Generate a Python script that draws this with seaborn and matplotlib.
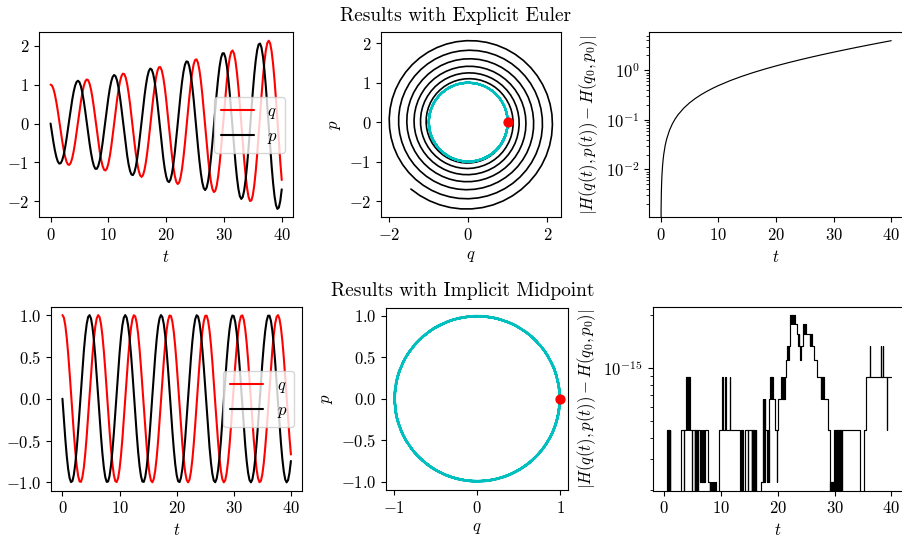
import numpy as np
import matplotlib
matplotlib.use("Agg")
import matplotlib.pyplot as plt
import matplotlib.ticker as mticker
import seaborn as sns

# sample times, one value every 0.25
t = [0, 0.25, 0.5, 0.75, 1, 1.25, 1.5, 1.75,
     2, 2.25, 2.5, 2.75, 3, 3.25, 3.5, 3.75,
     4, 4.25, 4.5, 4.75, 5, 5.25, 5.5, 5.75,
     6, 6.25, 6.5, 6.75, 7, 7.25, 7.5, 7.75,
     8, 8.25, 8.5, 8.75, 9, 9.25, 9.5, 9.75,
     10, 10.25, 10.5, 10.75, 11, 11.25, 11.5, 11.75,
     12, 12.25, 12.5, 12.75, 13, 13.25, 13.5, 13.75,
     14, 14.25, 14.5, 14.75, 15, 15.25, 15.5, 15.75,
     16, 16.25, 16.5, 16.75, 17, 17.25, 17.5, 17.75,
     18, 18.25, 18.5, 18.75, 19, 19.25, 19.5, 19.75,
     20, 20.25, 20.5, 20.75, 21, 21.25, 21.5, 21.75,
     22, 22.25, 22.5, 22.75, 23, 23.25, 23.5, 23.75,
     24, 24.25, 24.5, 24.75, 25, 25.25, 25.5, 25.75,
     26, 26.25, 26.5, 26.75, 27, 27.25, 27.5, 27.75,
     28, 28.25, 28.5, 28.75, 29, 29.25, 29.5, 29.75,
     30, 30.25, 30.5, 30.75, 31, 31.25, 31.5, 31.75,
     32, 32.25, 32.5, 32.75, 33, 33.25, 33.5, 33.75,
     34, 34.25, 34.5, 34.75, 35, 35.25, 35.5, 35.75,
     36, 36.25, 36.5, 36.75, 37, 37.25, 37.5, 37.75,
     38, 38.25, 38.5, 38.75, 39, 39.25, 39.5, 39.75,
     40]

# explicit Euler trajectory, one value every 0.125 (every 2nd one matches t)
q_euler = [1.000, 0.995, 0.974, 0.938, 0.887, 0.821, 0.743, 0.653, 0.552, 0.441, 0.324, 0.201, 0.074, -0.055, -0.184, -0.310,
           -0.432, -0.548, -0.656, -0.754, -0.841, -0.916, -0.976, -1.021, -1.051, -1.064, -1.061, -1.041, -1.005, -0.953, -0.886, -0.804,
           -0.710, -0.604, -0.488, -0.363, -0.233, -0.098, 0.039, 0.176, 0.311, 0.442, 0.566, 0.683, 0.789, 0.883, 0.964, 1.031,
           1.082, 1.116, 1.132, 1.131, 1.113, 1.077, 1.024, 0.954, 0.870, 0.771, 0.660, 0.538, 0.407, 0.269, 0.126, -0.020,
           -0.166, -0.310, -0.450, -0.584, -0.709, -0.824, -0.927, -1.015, -1.088, -1.145, -1.184, -1.204, -1.205, -1.189, -1.154, -1.100,
           -1.028, -0.940, -0.838, -0.721, -0.593, -0.454, -0.308, -0.156, -0.002, 0.154, 0.308, 0.459, 0.602, 0.737, 0.861, 0.972,
           1.068, 1.149, 1.212, 1.256, 1.281, 1.286, 1.270, 1.235, 1.181, 1.107, 1.016, 0.909, 0.787, 0.652, 0.506, 0.351,
           0.191, 0.026, -0.140, -0.305, -0.465, -0.619, -0.764, -0.899, -1.019, -1.124, -1.212, -1.282, -1.332, -1.362, -1.370, -1.357,
           -1.322, -1.267, -1.192, -1.098, -0.986, -0.858, -0.716, -0.562, -0.399, -0.228, -0.054, 0.123, 0.298, 0.471, 0.636, 0.792,
           0.936, 1.067, 1.181, 1.278, 1.355, 1.412, 1.446, 1.458, 1.448, 1.415, 1.359, 1.282, 1.185, 1.068, 0.935, 0.785,
           0.623, 0.450, 0.270, 0.084, -0.103, -0.291, -0.474, -0.652, -0.819, -0.976, -1.117, -1.242, -1.347, -1.433, -1.496, -1.537,
           -1.553, -1.545, -1.513, -1.457, -1.379, -1.278, -1.157, -1.017, -0.861, -0.689, -0.507, -0.315, -0.119, 0.081, 0.280, 0.477,
           0.667, 0.848, 1.015, 1.169, 1.304, 1.420, 1.514, 1.585, 1.631, 1.652, 1.648, 1.618, 1.562, 1.482, 1.378, 1.252,
           1.106, 0.941, 0.762, 0.569, 0.367, 0.157, -0.055, -0.269, -0.478, -0.682, -0.875, -1.056, -1.221, -1.369, -1.495, -1.599,
           -1.678, -1.732, -1.758, -1.757, -1.729, -1.674, -1.592, -1.485, -1.355, -1.201, -1.029, -0.840, -0.637, -0.422, -0.201, 0.026,
           0.252, 0.477, 0.694, 0.903, 1.097, 1.276, 1.436, 1.574, 1.688, 1.776, 1.837, 1.870, 1.874, 1.848, 1.793, 1.710,
           1.600, 1.464, 1.305, 1.124, 0.925, 0.710, 0.484, 0.248, 0.008, -0.234, -0.473, -0.707, -0.929, -1.139, -1.332, -1.506,
           -1.656, -1.782, -1.880, -1.949, -1.988, -1.997, -1.974, -1.920, -1.836, -1.722, -1.582, -1.416, -1.227, -1.017, -0.791, -0.551,
           -0.302, -0.046, 0.211, 0.467, 0.716, 0.956, 1.181, 1.390, 1.578, 1.742, 1.879, 1.989, 2.067, 2.114, 2.127, 2.107,
           2.055, 1.970, 1.854, 1.708, 1.535, 1.336, 1.117, 0.877, 0.624, 0.359, 0.088, -0.186, -0.457, -0.725, -0.981, -1.225,
           -1.449]
p_euler = [0.000, -0.125, -0.249, -0.369, -0.484, -0.593, -0.692, -0.781, -0.858, -0.923, -0.973, -1.008, -1.028, -1.032, -1.019, -0.991,
           -0.947, -0.888, -0.815, -0.728, -0.630, -0.522, -0.405, -0.281, -0.152, -0.019, 0.114, 0.246, 0.374, 0.498, 0.614, 0.722,
           0.818, 0.903, 0.973, 1.029, 1.069, 1.093, 1.099, 1.089, 1.061, 1.016, 0.956, 0.880, 0.790, 0.687, 0.573, 0.450,
           0.319, 0.181, 0.041, -0.101, -0.241, -0.379, -0.511, -0.637, -0.753, -0.858, -0.949, -1.027, -1.088, -1.133, -1.161, -1.171,
           -1.162, -1.135, -1.090, -1.028, -0.950, -0.856, -0.749, -0.629, -0.499, -0.360, -0.215, -0.066, 0.085, 0.236, 0.383, 0.525,
           0.659, 0.784, 0.897, 0.997, 1.082, 1.150, 1.201, 1.233, 1.246, 1.240, 1.214, 1.169, 1.106, 1.024, 0.927, 0.814,
           0.689, 0.551, 0.405, 0.251, 0.094, -0.067, -0.227, -0.385, -0.537, -0.682, -0.816, -0.939, -1.047, -1.140, -1.215, -1.272,
           -1.309, -1.326, -1.323, -1.298, -1.253, -1.188, -1.105, -1.003, -0.886, -0.754, -0.610, -0.455, -0.293, -0.124, 0.046, 0.217,
           0.385, 0.549, 0.704, 0.850, 0.982, 1.100, 1.201, 1.284, 1.347, 1.390, 1.411, 1.410, 1.387, 1.342, 1.277, 1.190,
           1.085, 0.962, 0.824, 0.672, 0.509, 0.337, 0.159, -0.023, -0.205, -0.385, -0.559, -0.726, -0.882, -1.026, -1.154, -1.264,
           -1.355, -1.426, -1.475, -1.501, -1.503, -1.482, -1.438, -1.371, -1.283, -1.174, -1.046, -0.901, -0.741, -0.568, -0.386, -0.197,
           -0.004, 0.190, 0.382, 0.569, 0.748, 0.917, 1.071, 1.210, 1.330, 1.431, 1.509, 1.565, 1.596, 1.602, 1.584, 1.540,
           1.472, 1.381, 1.268, 1.134, 0.983, 0.814, 0.633, 0.440, 0.240, 0.034, -0.172, -0.377, -0.577, -0.770, -0.950, -1.118,
           -1.268, -1.399, -1.509, -1.596, -1.659, -1.696, -1.707, -1.691, -1.648, -1.579, -1.486, -1.369, -1.230, -1.071, -0.895, -0.703,
           -0.500, -0.287, -0.070, 0.151, 0.370, 0.585, 0.790, 0.985, 1.165, 1.328, 1.471, 1.592, 1.688, 1.759, 1.802, 1.818,
           1.805, 1.764, 1.695, 1.599, 1.478, 1.332, 1.166, 0.980, 0.779, 0.563, 0.339, 0.107, -0.126, -0.360, -0.589, -0.810,
           -1.019, -1.214, -1.390, -1.546, -1.678, -1.785, -1.864, -1.914, -1.935, -1.926, -1.886, -1.817, -1.720, -1.594, -1.444, -1.269,
           -1.075, -0.862, -0.635, -0.396, -0.151, 0.099, 0.347, 0.592, 0.828, 1.054, 1.263, 1.454, 1.623, 1.768, 1.885, 1.974,
           2.032, 2.059, 2.054, 2.017, 1.948, 1.848, 1.719, 1.562, 1.380, 1.175, 0.952, 0.712, 0.460, 0.199, -0.066, -0.332,
           -0.592, -0.847, -1.088, -1.314, -1.520, -1.704, -1.861, -1.992, -2.091, -2.158, -2.191, -2.191, -2.156, -2.087, -1.986, -1.852,
           -1.690]

# implicit midpoint trajectory (stays on the unit circle), one value every 0.25
q_mid = [1.000, 0.969, 0.878, 0.732, 0.540, 0.315, 0.071, -0.178,
         -0.416, -0.628, -0.801, -0.924, -0.990, -0.994, -0.936, -0.821,
         -0.654, -0.446, -0.211, 0.038, 0.284, 0.512, 0.709, 0.861,
         0.960, 0.999, 0.977, 0.893, 0.754, 0.568, 0.347, 0.104,
         -0.146, -0.386, -0.602, -0.781, -0.911, -0.985, -0.997, -0.948,
         -0.839, -0.678, -0.476, -0.243, 0.004, 0.252, 0.483, 0.685,
         0.844, 0.951, 0.998, 0.983, 0.907, 0.775, 0.595, 0.378,
         0.137, -0.113, -0.355, -0.575, -0.760, -0.897, -0.978, -0.999,
         -0.958, -0.857, -0.702, -0.505, -0.275, -0.029, 0.219, 0.454,
         0.660, 0.826, 0.939, 0.995, 0.989, 0.921, 0.796, 0.621,
         0.408, 0.170, -0.080, -0.324, -0.548, -0.738, -0.882, -0.971,
         -1.000, -0.967, -0.873, -0.726, -0.533, -0.307, -0.062, 0.187,
         0.424, 0.635, 0.806, 0.928, 0.991, 0.993, 0.933, 0.815,
         0.647, 0.438, 0.202, -0.047, -0.292, -0.520, -0.715, -0.866,
         -0.963, -1.000, -0.975, -0.889, -0.748, -0.561, -0.338, -0.095,
         0.154, 0.394, 0.609, 0.786, 0.915, 0.986, 0.997, 0.945,
         0.834, 0.672, 0.468, 0.234, -0.013, -0.260, -0.491, -0.691,
         -0.849, -0.953, -0.998, -0.982, -0.904, -0.770, -0.588, -0.369,
         -0.128, 0.121, 0.363, 0.582, 0.765, 0.901, 0.980, 0.999,
         0.955, 0.852, 0.696, 0.497, 0.266, 0.019, -0.228, -0.462,
         -0.667]
p_mid = [0.000, -0.247, -0.479, -0.682, -0.841, -0.949, -0.997, -0.984,
         -0.909, -0.778, -0.598, -0.382, -0.141, 0.108, 0.351, 0.572,
         0.757, 0.895, 0.978, 0.999, 0.959, 0.859, 0.706, 0.508,
         0.279, 0.033, -0.215, -0.450, -0.657, -0.823, -0.938, -0.995,
         -0.989, -0.923, -0.799, -0.625, -0.412, -0.174, 0.075, 0.320,
         0.544, 0.735, 0.880, 0.970, 1.000, 0.968, 0.876, 0.729,
         0.537, 0.311, 0.066, -0.183, -0.420, -0.632, -0.804, -0.926,
         -0.991, -0.994, -0.935, -0.818, -0.650, -0.442, -0.207, 0.042,
         0.288, 0.516, 0.712, 0.864, 0.961, 1.000, 0.976, 0.891,
         0.751, 0.564, 0.343, 0.099, -0.150, -0.390, -0.606, -0.784,
         -0.913, -0.986, -0.997, -0.946, -0.837, -0.675, -0.472, -0.239,
         0.009, 0.256, 0.487, 0.688, 0.846, 0.952, 0.998, 0.982,
         0.906, 0.773, 0.591, 0.374, 0.132, -0.117, -0.359, -0.579,
         -0.763, -0.899, -0.979, -0.999, -0.956, -0.854, -0.699, -0.501,
         -0.271, -0.024, 0.224, 0.458, 0.664, 0.828, 0.941, 0.995,
         0.988, 0.919, 0.793, 0.618, 0.404, 0.165, -0.084, -0.328,
         -0.551, -0.741, -0.884, -0.972, -1.000, -0.966, -0.871, -0.723,
         -0.529, -0.303, -0.058, 0.191, 0.428, 0.639, 0.809, 0.929,
         0.992, 0.993, 0.932, 0.813, 0.644, 0.434, 0.198, -0.051,
         -0.296, -0.524, -0.718, -0.868, -0.964, -1.000, -0.974, -0.887,
         -0.745]

# energy error of explicit Euler
t_err_euler = [0, 0.04, 0.08, 0.12, 0.16, 0.2, 0.3, 0.4, 0.5, 0.75, 1, 1.5,
               2, 2.5, 3, 4, 5, 6, 7, 8, 9, 10, 12, 14, 16, 18, 20, 22, 24,
               26, 28, 30, 32, 34, 36, 38, 40]
err_euler = [0, 0.0016, 0.0032, 0.0048, 0.0064, 0.0080, 0.0121, 0.0161,
             0.0202, 0.0305, 0.0408, 0.0618, 0.0833, 0.1052, 0.1275, 0.1735,
             0.2214, 0.2712, 0.3231, 0.3771, 0.4333, 0.4918, 0.6161, 0.7507,
             0.8965, 1.0544, 1.2255, 1.4109, 1.6117, 1.8292, 2.0649, 2.3201,
             2.5966, 2.8962, 3.2207, 3.5722, 3.9530]

# energy error of implicit midpoint: (time, error in units of 1e-16), held until next time
mid_err_steps = [
    (0, 0), (0.56, 4.44), (0.64, 0), (0.72, 4.44), (0.80, 0), (0.88, 4.44), (0.96, 0), (1.04, 4.44), (1.12, 0),
    (3.00, 4.44), (3.48, 0), (3.52, 4.44),
    (3.92, 8.88), (4.00, 4.44), (4.08, 8.88), (4.16, 4.44), (4.24, 8.88), (4.32, 4.44), (4.40, 8.88),
    (4.48, 4.44), (4.56, 8.88), (4.64, 4.44),
    (4.96, 0), (5.00, 4.44),
    (5.36, 0), (5.40, 4.44), (5.48, 0), (5.52, 4.44), (5.60, 0), (5.64, 4.44),
    (5.84, 0), (5.88, 4.44), (5.96, 0), (6.00, 4.44),
    (6.40, 2.22), (6.48, 4.44), (6.56, 2.22), (6.64, 4.44), (6.72, 2.22), (6.80, 4.44), (6.88, 2.22),
    (6.96, 4.44), (7.04, 2.22), (7.12, 4.44),
    (7.72, 2.22),
    (8.00, 0), (8.08, 2.22), (8.16, 0), (8.24, 2.22), (8.32, 0), (8.40, 2.22), (8.48, 0), (8.56, 2.22),
    (8.64, 0), (8.72, 2.22), (8.80, 0), (8.88, 2.22), (8.96, 0), (9.04, 2.22), (9.12, 0),
    (9.72, 4.44),
    (10.28, 8.88), (10.32, 4.44), (10.40, 8.88), (10.44, 4.44), (10.80, 8.88), (10.84, 4.44),
    (10.92, 8.88), (10.96, 4.44), (11.52, 8.88), (11.56, 4.44),
    (13.44, 0), (13.48, 4.44), (13.56, 0), (13.60, 4.44), (13.68, 0), (13.72, 4.44), (13.84, 0),
    (14.32, 4.44), (14.72, 0), (14.76, 4.44),
    (15.40, 0), (15.44, 4.44), (15.52, 0), (15.56, 4.44), (15.64, 0), (15.68, 4.44),
    (15.84, 0), (15.88, 4.44), (15.96, 0), (16.00, 4.44), (16.08, 0), (16.12, 4.44), (16.20, 0),
    (17.08, 2.22),
    (17.36, 6.66), (17.44, 2.22), (17.52, 6.66), (17.60, 2.22), (17.68, 6.66), (17.76, 2.22),
    (17.84, 4.44), (18.20, 2.22), (18.24, 4.44),
    (18.44, 2.22), (18.48, 6.66),
    (18.56, 8.88), (18.64, 6.66), (18.72, 8.88), (18.80, 6.66), (18.88, 8.88), (18.96, 6.66),
    (19.04, 8.88), (19.12, 6.66),
    (19.44, 4.44), (19.80, 2.22), (19.84, 4.44), (20.00, 6.66),
    (20.60, 8.88), (20.68, 6.66), (20.76, 8.88), (20.84, 6.66), (20.92, 8.88), (21.00, 6.66),
    (21.08, 8.88), (21.16, 6.66), (21.20, 8.88),
    (21.52, 11.1),
    (21.72, 13.3), (21.76, 11.1), (21.84, 13.3), (21.88, 11.1), (21.92, 13.3),
    (22.16, 17.8),
    (22.24, 20.0), (22.32, 17.8), (22.40, 20.0), (22.48, 17.8), (22.56, 20.0), (22.64, 17.8),
    (22.72, 20.0), (22.80, 17.8), (22.88, 20.0), (22.96, 17.8), (23.04, 20.0), (23.12, 17.8),
    (23.36, 15.5),
    (23.52, 13.3), (23.56, 15.5), (23.64, 13.3), (23.68, 15.5), (23.76, 13.3),
    (24.00, 11.1), (24.04, 13.3), (24.12, 11.1), (24.16, 13.3),
    (24.40, 17.8),
    (24.68, 15.5), (24.72, 17.8), (24.80, 15.5), (24.84, 17.8), (24.92, 15.5), (24.96, 17.8), (25.04, 15.5),
    (25.72, 13.3), (25.76, 15.5), (25.84, 13.3), (25.88, 15.5), (25.96, 13.3), (26.00, 15.5), (26.08, 13.3),
    (26.44, 11.1), (26.88, 8.88),
    (27.60, 6.66), (27.64, 8.88), (27.72, 6.66), (27.76, 8.88), (27.84, 6.66), (27.88, 8.88),
    (27.96, 6.66), (28.00, 8.88), (28.08, 6.66), (28.12, 8.88), (28.20, 6.66),
    (28.80, 4.44), (29.20, 0),
    (29.28, 2.22), (29.36, 0), (29.44, 2.22), (29.52, 0), (29.60, 2.22), (29.68, 0), (29.76, 2.22),
    (29.84, 0), (29.92, 2.22),
    (29.96, 4.44), (30.04, 0), (30.12, 4.44), (30.20, 0), (30.28, 4.44), (30.36, 0), (30.40, 4.44),
    (30.64, 0), (30.68, 4.44), (30.76, 0), (30.80, 4.44), (30.88, 0), (30.92, 4.44), (31.00, 0),
    (31.04, 4.44), (31.12, 0), (31.16, 4.44), (31.36, 0), (31.40, 4.44),
    (34.56, 0), (35.12, 4.44), (35.52, 8.88),
    (36.28, 13.3), (36.32, 8.88), (38.12, 13.3), (38.16, 8.88), (38.56, 13.3), (38.60, 8.88),
    (39.28, 4.44), (39.32, 8.88), (40.00, 8.88),
]
t_err_mid = [s[0] for s in mid_err_steps]
err_mid = np.array([s[1] for s in mid_err_steps]) * 1e-16

# Style: plain white axes, Computer Modern look
sns.set_theme(style="ticks")
plt.rcParams.update({
    "font.family": "serif",
    "font.serif": ["cmr10"],
    "mathtext.fontset": "cm",
    "axes.formatter.use_mathtext": True,
    "font.size": 12,
    "axes.labelsize": 12,
    "xtick.labelsize": 12,
    "ytick.labelsize": 12,
    "legend.fontsize": 12,
    "axes.edgecolor": "black",
    "axes.linewidth": 0.8,
    "axes.labelcolor": "black",
    "text.color": "black",
    "xtick.color": "black",
    "ytick.color": "black",
    "xtick.major.size": 3.5,
    "ytick.major.size": 3.5,
    "xtick.minor.size": 2,
    "ytick.minor.size": 2,
    "xtick.major.width": 0.8,
    "ytick.major.width": 0.8,
    "xtick.minor.width": 0.6,
    "ytick.minor.width": 0.6,
})

CYAN = "#00bfbf"

fig = plt.figure(figsize=(9.03, 5.38), dpi=100)
ax1 = fig.add_axes([0.0432, 0.5961, 0.2816, 0.3439])
ax2 = fig.add_axes([0.4219, 0.5961, 0.1990, 0.3439])
ax3 = fig.add_axes([0.7191, 0.5961, 0.2806, 0.3439])
ax4 = fig.add_axes([0.0565, 0.0879, 0.2783, 0.3420])
ax5 = fig.add_axes([0.4275, 0.0879, 0.2019, 0.3420])
ax6 = fig.add_axes([0.7228, 0.0879, 0.2769, 0.3420])

ylab = r"$|H(q(t),p(t)) - H(q_0,p_0)|$"

# Euler time series use every 2nd sample so they line up with t
rows = [(ax1, ax2, ax3, q_euler[::2], p_euler[::2], q_euler, p_euler, t_err_euler, err_euler),
        (ax4, ax5, ax6, q_mid, p_mid, q_mid, p_mid, t_err_mid, err_mid)]

for axa, axb, axc, q, p, q_ph, p_ph, te, err in rows:
    # q and p against time
    sns.lineplot(x=t, y=q, color="red", lw=1.5, label="$q$", estimator=None, sort=False, ax=axa)
    sns.lineplot(x=t, y=p, color="black", lw=1.5, label="$p$", estimator=None, sort=False, ax=axa)
    axa.legend(loc="center right")
    axa.set_xlabel("$t$")
    axa.set_ylabel("")

    # phase portrait with the exact circle and the starting point
    sns.lineplot(x=q_ph, y=p_ph, color="black", lw=1.2, estimator=None, sort=False, ax=axb)
    sns.lineplot(x=q_mid, y=p_mid, color=CYAN, lw=1.5, estimator=None, sort=False, ax=axb)
    sns.scatterplot(x=[q[0]], y=[p[0]], color="red", s=55, linewidth=0, zorder=3, ax=axb)
    axb.set_aspect("equal")
    axb.set_xlabel("$q$")
    axb.set_ylabel("$p$")

    # energy error
    sns.lineplot(x=te, y=err, color="black", lw=0.85, estimator=None, sort=False,
                 drawstyle="steps-post" if axc is ax6 else "default", ax=axc)
    axc.set_yscale("log")
    axc.yaxis.set_minor_formatter(mticker.NullFormatter())
    axc.set_xlabel("$t$")
    axc.set_ylabel(ylab)

# only one decade is visible on the midpoint error axis
ax6.yaxis.set_major_locator(mticker.FixedLocator([1e-15]))

fig.text(0.5048, 0.9703, "Results with Explicit Euler", ha="center", va="center", fontsize=14)
fig.text(0.5127, 0.4582, "Results with Implicit Midpoint", ha="center", va="center", fontsize=14)

fig.savefig("out.png", dpi=100)
